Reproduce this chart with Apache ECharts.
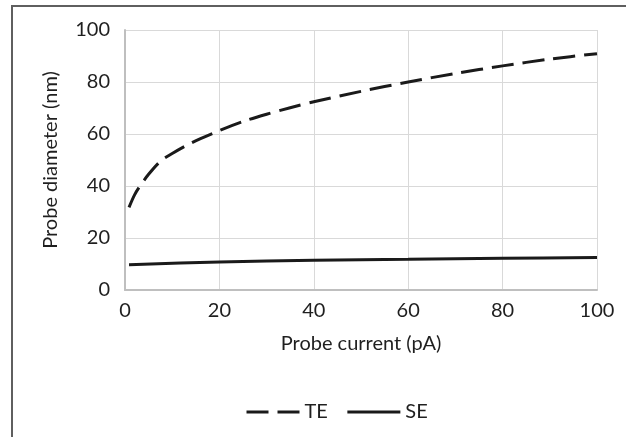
<!DOCTYPE html>
<html>
<head>
<meta charset="utf-8">
<script src="https://cdn.jsdelivr.net/npm/echarts@6/dist/echarts.min.js"></script>
<style>
  html, body { margin: 0; padding: 0; background: #fff; }
  #chart { width: 626px; height: 437px; }
</style>
</head>
<body>
<div id="chart"></div>
<script>
// probe current (pA) and probe diameter (nm)
const teCurrent = [0.85, 2, 3, 5, 7.5, 10, 13, 16, 20, 25, 30, 35, 40, 50, 60, 70, 80, 90, 100];
const teDiameter = [31.8, 36.5, 39.5, 44.5, 49.5, 52.5, 55.6, 58.2, 61.3, 64.8, 67.6, 70.1, 72.4, 76.4, 80, 83.3, 86.2, 88.8, 90.9];
const seCurrent = [0.85, 20, 40, 60, 80, 100];
const seDiameter = [9.7, 10.8, 11.4, 11.8, 12.2, 12.5];
const xTicks = [0, 20, 40, 60, 80, 100];
const yTicks = [0, 20, 40, 60, 80, 100];

const chart = echarts.init(document.getElementById('chart'));

const font = 'Lato, "Open Sans", sans-serif';
const textColor = '#1f1f1f';
const fontSize = 20;

const option = {
  animation: false,
  textStyle: { fontFamily: font },
  graphic: [
    {
      type: 'rect',
      shape: { x: 12, y: 6, width: 700, height: 500 },
      style: { fill: 'none', stroke: '#5f5f5f', lineWidth: 2 },
      silent: true
    }
  ],
  grid: { left: 125, right: 29, top: 30, bottom: 147 },
  xAxis: {
    type: 'value',
    min: xTicks[0],
    max: xTicks[xTicks.length - 1],
    interval: xTicks[1] - xTicks[0],
    name: 'Probe current (pA)',
    nameLocation: 'middle',
    nameGap: 44,
    nameTextStyle: { fontSize: fontSize, color: textColor, fontFamily: font },
    axisLine: { lineStyle: { color: '#bfbfbf', width: 2 } },
    axisTick: { show: false },
    axisLabel: { fontSize: fontSize, color: textColor, margin: 11, fontFamily: font },
    splitLine: { lineStyle: { color: '#d9d9d9', width: 1 } }
  },
  yAxis: {
    type: 'value',
    min: yTicks[0],
    max: yTicks[yTicks.length - 1],
    interval: yTicks[1] - yTicks[0],
    name: 'Probe diameter (nm)',
    nameLocation: 'middle',
    nameGap: 64,
    nameTextStyle: { fontSize: fontSize, color: textColor, fontFamily: font },
    axisLine: { show: true, lineStyle: { color: '#bfbfbf', width: 2 } },
    axisTick: { show: false },
    axisLabel: { fontSize: fontSize, color: textColor, margin: 15, fontFamily: font },
    splitLine: { lineStyle: { color: '#d9d9d9', width: 1 } }
  },
  legend: {
    left: 240,
    top: 397,
    itemWidth: 53,
    itemHeight: 14,
    itemGap: 18,
    itemStyle: { opacity: 0 },
    lineStyle: { width: 3 },
    textStyle: { fontSize: fontSize, color: textColor, fontFamily: font },
    data: ['TE', 'SE']
  },
  series: [
    {
      name: 'TE',
      type: 'line',
      symbol: 'none',
      smooth: 0.3,
      data: teCurrent.map((c, i) => [c, teDiameter[i]]),
      lineStyle: { color: '#1a1a1a', width: 3, type: [22, 9] },
      itemStyle: { color: '#1a1a1a' }
    },
    {
      name: 'SE',
      type: 'line',
      symbol: 'none',
      smooth: 0.3,
      data: seCurrent.map((c, i) => [c, seDiameter[i]]),
      lineStyle: { color: '#1a1a1a', width: 3 },
      itemStyle: { color: '#1a1a1a' }
    }
  ]
};

chart.setOption(option);
</script>
</body>
</html>
